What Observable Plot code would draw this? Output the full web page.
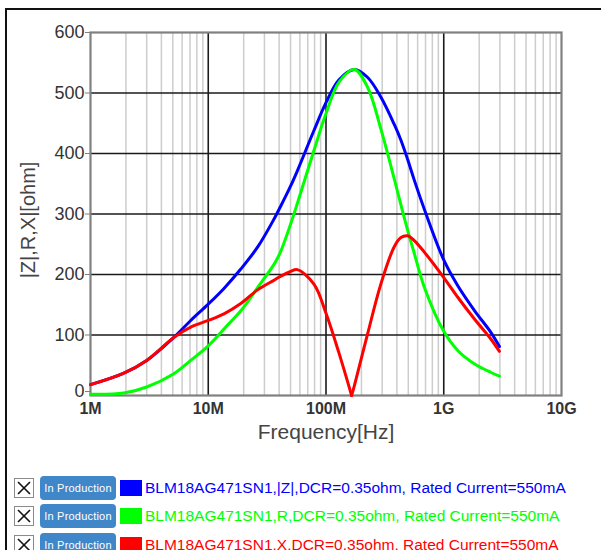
<!DOCTYPE html>
<html><head><meta charset="utf-8">
<script src="https://cdn.jsdelivr.net/npm/d3@7"></script>
<script src="https://cdn.jsdelivr.net/npm/@observablehq/plot@0.6"></script>
<style>
html,body{margin:0;padding:0;background:#fff;overflow:hidden;width:601px;height:550px;font-family:"Liberation Sans",Arial,sans-serif;}
#outer{position:absolute;left:5px;top:8px;width:700px;height:700px;border-left:2px solid #111;border-top:2px solid #111;pointer-events:none;}
#chart{position:absolute;left:0;top:0;}
#legend{position:absolute;left:14px;top:474px;}
.row{display:flex;align-items:center;height:28.3px;white-space:nowrap;}
.cb{width:20px;height:20px;border:1px solid #8a8a8a;box-sizing:border-box;display:flex;align-items:center;justify-content:center;background:#fff;}
.btn{margin-left:6px;width:76px;height:24px;border-radius:4px;background:#3f87c9;color:#fff;font-size:11px;display:flex;align-items:center;justify-content:center;letter-spacing:0.2px;}
.sw{margin-left:4px;width:22px;height:16px;}
.lt{margin-left:3px;font-size:15.5px;}
</style>
</head><body>
<div id="chart"></div>
<div id="outer"></div>
<div id="legend"></div>
<script>
// frequencies (Hz)
const freq = [1e6, 1.92e6, 3.0e6, 5.1e6, 7.1e6, 10e6, 13.6e6, 18.9e6, 26.4e6, 36.5e6, 41e6, 50e6, 57e6, 79e6, 100e6, 129e6, 165e6, 174e6, 225e6, 293e6, 380e6, 433e6, 494e6, 562e6, 684e6, 1000e6, 1320e6, 1830e6, 2520e6, 2970e6];
// |Z| (ohm)  (null = not read at that frequency)
const zValues = [18, 37, 58, 96, 124, 151, 177, 209, 246, 293, 312, 346, 371, 438, 484, 522, null, 539, 526, 493, 448, 422, 390, 356, 308, 224, 181, 140, 104, 81];
// R (ohm)
const rValues = [2, 4, 14, 36, 58, 82, 110, 140, 179, 218, 237, 283, 317, 405, 466, 518, null, 539, 510, 440, 358, 315, 273, 235, 179, 106, 74, 52, 38, 32];
// X (ohm)
const xValues = [18, 37, 58, 96, 113, 124, 135, 152, 175, 191, 197, 205, 208, 184, 136, 70, 0, 16, 101, 185, 246, 261, 264, 256, 237, 195, 162, 126, 93, 73];

const seriesNames = ["BLM18AG471SN1,|Z|,DCR=0.35ohm, Rated Current=550mA", "BLM18AG471SN1,R,DCR=0.35ohm, Rated Current=550mA", "BLM18AG471SN1,X,DCR=0.35ohm, Rated Current=550mA"];
const seriesColors = ["#0000ff", "#00ff00", "#ff0000"];
const statusLabel = "In Production";

const xTicks = [1e6, 1e7, 1e8, 1e9, 1e10];
const xTickLabels = ["1M", "10M", "100M", "1G", "10G"];
const yTicks = [0, 100, 200, 300, 400, 500, 600];
const xLabel = "Frequency[Hz]";
const yLabel = "|Z|,R,X|[ohm]";

const minorTicks = [];
for (let d = 6; d < 10; d++) for (let k = 2; k <= 9; k++) minorTicks.push(k * Math.pow(10, d));

const toRows = vals => freq.map((f, i) => ({f, v: vals[i]})).filter(d => d.v != null);
const zData = toRows(zValues);
const rData = toRows(rValues);
const xData = toRows(xValues);
const xMinF = freq[xValues.indexOf(Math.min(...xValues))];

const lw = 3;
const cv = "catmull-rom";
const plot = Plot.plot({
  width: 601, height: 465,
  marginLeft: 90, marginRight: 40, marginTop: 32, marginBottom: 70,
  style: {fontFamily: "'Liberation Sans', Arial, sans-serif", background: "transparent"},
  x: {type: "log", domain: [1e6, 1e10]},
  y: {domain: [0, 600]},
  marks: [
    Plot.ruleX(minorTicks, {stroke: "#cdcdcd", strokeWidth: 1.5}),
    Plot.ruleX(xTicks.slice(1, -1), {stroke: "#1a1a1a", strokeWidth: 1.6}),
    Plot.ruleY(yTicks.slice(1, -1), {stroke: "#1a1a1a", strokeWidth: 1.6}),
    Plot.frame({stroke: "#808080", strokeWidth: 2.2}),
    Plot.line(zData, {x: "f", y: "v", stroke: seriesColors[0], strokeWidth: lw, curve: cv}),
    Plot.line(rData, {x: "f", y: "v", stroke: seriesColors[1], strokeWidth: lw, curve: cv}),
    Plot.line(xData.filter(d => d.f <= xMinF), {x: "f", y: "v", stroke: seriesColors[2], strokeWidth: lw, curve: cv}),
    Plot.line(xData.filter(d => d.f >= xMinF), {x: "f", y: "v", stroke: seriesColors[2], strokeWidth: lw, curve: cv}),
    Plot.axisX(xTicks, {tickSize: 0, tickPadding: 7, fontSize: 16, fontWeight: "bold", fill: "#333", tickFormat: (d) => xTickLabels[xTicks.indexOf(d)], label: null}),
    Plot.axisY(yTicks.slice(1), {tickSize: 5, tickPadding: 1, stroke: "#808080", fontSize: 18, fill: "#333", label: null}),
    Plot.axisY(yTicks.slice(0, 1), {tickSize: 5, tickPadding: 1, stroke: "#808080", fontSize: 18, fill: "#333", dy: -4, label: null}),
    Plot.text([xLabel], {text: d => d, frameAnchor: "bottom", dy: 43, fontSize: 21, fill: "#444"}),
    Plot.text([yLabel], {text: d => d, frameAnchor: "left", textAnchor: "middle", dx: -62, dy: 6, rotate: -90, fontSize: 20, fill: "#444"})
  ]
});
document.getElementById("chart").appendChild(plot);

const legend = document.getElementById("legend");
seriesNames.forEach((name, i) => {
  const row = document.createElement("div");
  row.className = "row";
  row.innerHTML = `<div class="cb"><svg width="14" height="14"><line x1="1" y1="1" x2="13" y2="13" stroke="#111" stroke-width="1.6"/><line x1="13" y1="1" x2="1" y2="13" stroke="#111" stroke-width="1.6"/></svg></div>` +
    `<div class="btn">${statusLabel}</div><div class="sw" style="background:${seriesColors[i]}"></div>` +
    `<div class="lt" style="color:${seriesColors[i]}">${name}</div>`;
  legend.appendChild(row);
});
</script>
</body></html>
